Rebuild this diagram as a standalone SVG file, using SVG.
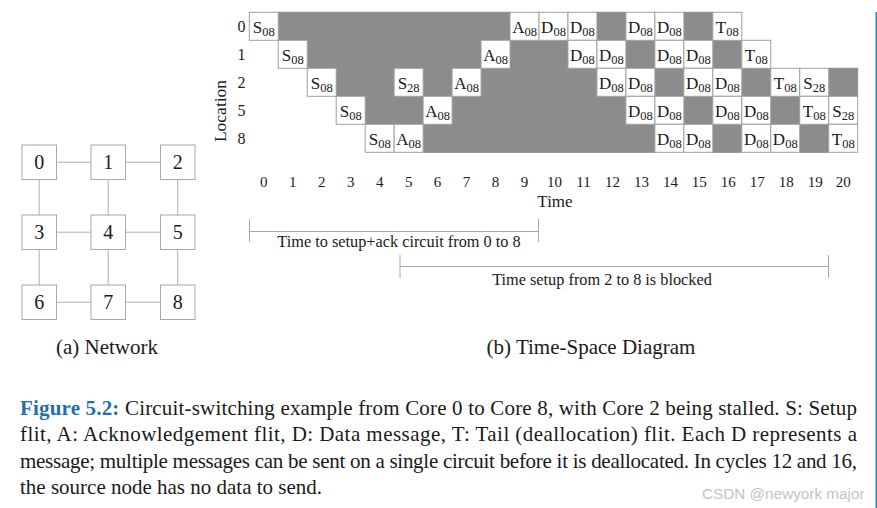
<svg xmlns="http://www.w3.org/2000/svg" width="877" height="508" viewBox="0 0 877 508">
<style>
text{font-family:"Liberation Serif","DejaVu Serif",serif;fill:#1a1a1a}
.g{fill:#8c8c8c;stroke:#8c8c8c;stroke-width:1}
.c{fill:#fff;stroke:#a0a0a0;stroke-width:1}
.ct{font-size:17px;text-anchor:middle}
.sub{font-size:12.5px}
.lbl{font-size:15px;text-anchor:middle}
.loc{font-size:16px;text-anchor:middle}
.brt{font-size:16.3px;text-anchor:middle}
.nb{fill:#fff;stroke:#a8a8a8;stroke-width:1}
.nt{font-size:20px;text-anchor:middle}
.edge{stroke:#b0b0b0;stroke-width:1;fill:none}
.br{stroke:#a8a8a8;stroke-width:1;fill:none}
.cap{font-size:21px}
.cap2{font-size:21px;text-anchor:middle}
</style>
<!-- Network -->
<g id="connectors">
<line class="edge" x1="56.5" y1="162.2" x2="91" y2="162.2"/>
<line class="edge" x1="125.5" y1="162.2" x2="160.5" y2="162.2"/>
<line class="edge" x1="56.5" y1="232.2" x2="91" y2="232.2"/>
<line class="edge" x1="125.5" y1="232.2" x2="160.5" y2="232.2"/>
<line class="edge" x1="56.5" y1="302.2" x2="91" y2="302.2"/>
<line class="edge" x1="125.5" y1="302.2" x2="160.5" y2="302.2"/>
<line class="edge" x1="39.2" y1="179.5" x2="39.2" y2="215"/>
<line class="edge" x1="108.2" y1="179.5" x2="108.2" y2="215"/>
<line class="edge" x1="177.7" y1="179.5" x2="177.7" y2="215"/>
<line class="edge" x1="39.2" y1="249.5" x2="39.2" y2="285"/>
<line class="edge" x1="108.2" y1="249.5" x2="108.2" y2="285"/>
<line class="edge" x1="177.7" y1="249.5" x2="177.7" y2="285"/>
</g>
<g id="n0"><rect class="nb" x="22" y="145" width="34.5" height="34.5"/><text class="nt" x="39.2" y="169">0</text></g>
<g id="n1"><rect class="nb" x="91" y="145" width="34.5" height="34.5"/><text class="nt" x="108.2" y="169">1</text></g>
<g id="n2"><rect class="nb" x="160.5" y="145" width="34.5" height="34.5"/><text class="nt" x="177.7" y="169">2</text></g>
<g id="n3"><rect class="nb" x="22" y="215" width="34.5" height="34.5"/><text class="nt" x="39.2" y="239">3</text></g>
<g id="n4"><rect class="nb" x="91" y="215" width="34.5" height="34.5"/><text class="nt" x="108.2" y="239">4</text></g>
<g id="n5"><rect class="nb" x="160.5" y="215" width="34.5" height="34.5"/><text class="nt" x="177.7" y="239">5</text></g>
<g id="n6"><rect class="nb" x="22" y="285" width="34.5" height="34.5"/><text class="nt" x="39.2" y="309">6</text></g>
<g id="n7"><rect class="nb" x="91" y="285" width="34.5" height="34.5"/><text class="nt" x="108.2" y="309">7</text></g>
<g id="n8"><rect class="nb" x="160.5" y="285" width="34.5" height="34.5"/><text class="nt" x="177.7" y="309">8</text></g>
<text class="cap2" x="107" y="354">(a) Network</text>

<!-- Time-space diagram -->
<g id="grid" transform="translate(249.3,12.3)">
<rect class="g" x="28.97" y="0" width="231.76" height="28"/>
<rect class="g" x="347.64" y="0" width="28.97" height="28"/>
<rect class="g" x="434.55" y="0" width="28.97" height="28"/>
<rect class="g" x="57.94" y="28" width="173.82" height="28"/>
<rect class="g" x="260.73" y="28" width="57.94" height="28"/>
<rect class="g" x="376.61" y="28" width="28.97" height="28"/>
<rect class="g" x="463.52" y="28" width="28.97" height="28"/>
<rect class="g" x="86.91" y="56" width="57.94" height="28"/>
<rect class="g" x="173.82" y="56" width="28.97" height="28"/>
<rect class="g" x="231.76" y="56" width="115.88" height="28"/>
<rect class="g" x="405.58" y="56" width="28.97" height="28"/>
<rect class="g" x="492.49" y="56" width="28.97" height="28"/>
<rect class="g" x="579.4" y="56" width="28.97" height="28"/>
<rect class="g" x="115.88" y="84" width="57.94" height="28"/>
<rect class="g" x="202.79" y="84" width="173.82" height="28"/>
<rect class="g" x="434.55" y="84" width="28.97" height="28"/>
<rect class="g" x="521.46" y="84" width="28.97" height="28"/>
<rect class="g" x="173.82" y="112" width="231.76" height="28"/>
<rect class="g" x="463.52" y="112" width="28.97" height="28"/>
<rect class="g" x="550.43" y="112" width="28.97" height="28"/>

<!-- row 0 -->
<rect class="c" x="0" y="0" width="28.97" height="28"/><text class="ct" x="14.49" y="20.5">S<tspan class="sub" dy="3">08</tspan></text>
<rect class="c" x="260.73" y="0" width="28.97" height="28"/><text class="ct" x="275.22" y="20.5">A<tspan class="sub" dy="3">08</tspan></text>
<rect class="c" x="289.7" y="0" width="28.97" height="28"/><text class="ct" x="304.19" y="20.5">D<tspan class="sub" dy="3">08</tspan></text>
<rect class="c" x="318.67" y="0" width="28.97" height="28"/><text class="ct" x="333.16" y="20.5">D<tspan class="sub" dy="3">08</tspan></text>
<rect class="c" x="376.61" y="0" width="28.97" height="28"/><text class="ct" x="391.1" y="20.5">D<tspan class="sub" dy="3">08</tspan></text>
<rect class="c" x="405.58" y="0" width="28.97" height="28"/><text class="ct" x="420.07" y="20.5">D<tspan class="sub" dy="3">08</tspan></text>
<rect class="c" x="463.52" y="0" width="28.97" height="28"/><text class="ct" x="478.01" y="20.5">T<tspan class="sub" dy="3">08</tspan></text>
<!-- row 1 -->
<rect class="c" x="28.97" y="28" width="28.97" height="28"/><text class="ct" x="43.46" y="48.5">S<tspan class="sub" dy="3">08</tspan></text>
<rect class="c" x="231.76" y="28" width="28.97" height="28"/><text class="ct" x="246.25" y="48.5">A<tspan class="sub" dy="3">08</tspan></text>
<rect class="c" x="318.67" y="28" width="28.97" height="28"/><text class="ct" x="333.16" y="48.5">D<tspan class="sub" dy="3">08</tspan></text>
<rect class="c" x="347.64" y="28" width="28.97" height="28"/><text class="ct" x="362.13" y="48.5">D<tspan class="sub" dy="3">08</tspan></text>
<rect class="c" x="405.58" y="28" width="28.97" height="28"/><text class="ct" x="420.07" y="48.5">D<tspan class="sub" dy="3">08</tspan></text>
<rect class="c" x="434.55" y="28" width="28.97" height="28"/><text class="ct" x="449.04" y="48.5">D<tspan class="sub" dy="3">08</tspan></text>
<rect class="c" x="492.49" y="28" width="28.97" height="28"/><text class="ct" x="506.98" y="48.5">T<tspan class="sub" dy="3">08</tspan></text>
<!-- row 2 -->
<rect class="c" x="57.94" y="56" width="28.97" height="28"/><text class="ct" x="72.43" y="76.5">S<tspan class="sub" dy="3">08</tspan></text>
<rect class="c" x="144.85" y="56" width="28.97" height="28"/><text class="ct" x="159.34" y="76.5">S<tspan class="sub" dy="3">28</tspan></text>
<rect class="c" x="202.79" y="56" width="28.97" height="28"/><text class="ct" x="217.28" y="76.5">A<tspan class="sub" dy="3">08</tspan></text>
<rect class="c" x="347.64" y="56" width="28.97" height="28"/><text class="ct" x="362.13" y="76.5">D<tspan class="sub" dy="3">08</tspan></text>
<rect class="c" x="376.61" y="56" width="28.97" height="28"/><text class="ct" x="391.1" y="76.5">D<tspan class="sub" dy="3">08</tspan></text>
<rect class="c" x="434.55" y="56" width="28.97" height="28"/><text class="ct" x="449.04" y="76.5">D<tspan class="sub" dy="3">08</tspan></text>
<rect class="c" x="463.52" y="56" width="28.97" height="28"/><text class="ct" x="478.01" y="76.5">D<tspan class="sub" dy="3">08</tspan></text>
<rect class="c" x="521.46" y="56" width="28.97" height="28"/><text class="ct" x="535.95" y="76.5">T<tspan class="sub" dy="3">08</tspan></text>
<rect class="c" x="550.43" y="56" width="28.97" height="28"/><text class="ct" x="564.92" y="76.5">S<tspan class="sub" dy="3">28</tspan></text>
<!-- row 3 -->
<rect class="c" x="86.91" y="84" width="28.97" height="28"/><text class="ct" x="101.4" y="104.5">S<tspan class="sub" dy="3">08</tspan></text>
<rect class="c" x="173.82" y="84" width="28.97" height="28"/><text class="ct" x="188.31" y="104.5">A<tspan class="sub" dy="3">08</tspan></text>
<rect class="c" x="376.61" y="84" width="28.97" height="28"/><text class="ct" x="391.1" y="104.5">D<tspan class="sub" dy="3">08</tspan></text>
<rect class="c" x="405.58" y="84" width="28.97" height="28"/><text class="ct" x="420.07" y="104.5">D<tspan class="sub" dy="3">08</tspan></text>
<rect class="c" x="463.52" y="84" width="28.97" height="28"/><text class="ct" x="478.01" y="104.5">D<tspan class="sub" dy="3">08</tspan></text>
<rect class="c" x="492.49" y="84" width="28.97" height="28"/><text class="ct" x="506.98" y="104.5">D<tspan class="sub" dy="3">08</tspan></text>
<rect class="c" x="550.43" y="84" width="28.97" height="28"/><text class="ct" x="564.92" y="104.5">T<tspan class="sub" dy="3">08</tspan></text>
<rect class="c" x="579.4" y="84" width="28.97" height="28"/><text class="ct" x="593.89" y="104.5">S<tspan class="sub" dy="3">28</tspan></text>
<!-- row 4 -->
<rect class="c" x="115.88" y="112" width="28.97" height="28"/><text class="ct" x="130.37" y="132.5">S<tspan class="sub" dy="3">08</tspan></text>
<rect class="c" x="144.85" y="112" width="28.97" height="28"/><text class="ct" x="159.34" y="132.5">A<tspan class="sub" dy="3">08</tspan></text>
<rect class="c" x="405.58" y="112" width="28.97" height="28"/><text class="ct" x="420.07" y="132.5">D<tspan class="sub" dy="3">08</tspan></text>
<rect class="c" x="434.55" y="112" width="28.97" height="28"/><text class="ct" x="449.04" y="132.5">D<tspan class="sub" dy="3">08</tspan></text>
<rect class="c" x="492.49" y="112" width="28.97" height="28"/><text class="ct" x="506.98" y="132.5">D<tspan class="sub" dy="3">08</tspan></text>
<rect class="c" x="521.46" y="112" width="28.97" height="28"/><text class="ct" x="535.95" y="132.5">D<tspan class="sub" dy="3">08</tspan></text>
<rect class="c" x="579.4" y="112" width="28.97" height="28"/><text class="ct" x="593.89" y="132.5">T<tspan class="sub" dy="3">08</tspan></text>
</g>

<!-- location labels -->
<g id="loc">
<text class="loc" x="241.5" y="32">0</text>
<text class="loc" x="241.5" y="60">1</text>
<text class="loc" x="241.5" y="88">2</text>
<text class="loc" x="241.5" y="116">5</text>
<text class="loc" x="241.5" y="144">8</text>
<text x="0" y="0" transform="translate(226,111) rotate(-90)" style="font-size:17.5px;text-anchor:middle">Location</text>
</g>
<!-- time labels -->
<g id="time">
<text class="lbl" x="263.8" y="187">0</text>
<text class="lbl" x="292.77" y="187">1</text>
<text class="lbl" x="321.74" y="187">2</text>
<text class="lbl" x="350.71" y="187">3</text>
<text class="lbl" x="379.68" y="187">4</text>
<text class="lbl" x="408.65" y="187">5</text>
<text class="lbl" x="437.62" y="187">6</text>
<text class="lbl" x="466.59" y="187">7</text>
<text class="lbl" x="495.56" y="187">8</text>
<text class="lbl" x="524.53" y="187">9</text>
<text class="lbl" x="554.5" y="187">10</text>
<text class="lbl" x="583.47" y="187">11</text>
<text class="lbl" x="612.44" y="187">12</text>
<text class="lbl" x="641.41" y="187">13</text>
<text class="lbl" x="670.38" y="187">14</text>
<text class="lbl" x="699.35" y="187">15</text>
<text class="lbl" x="728.32" y="187">16</text>
<text class="lbl" x="757.29" y="187">17</text>
<text class="lbl" x="786.26" y="187">18</text>
<text class="lbl" x="815.23" y="187">19</text>
<text class="lbl" x="843.2" y="187">20</text>
<text class="lbl" x="555" y="207" style="font-size:17px">Time</text>
</g>
<!-- brackets -->
<g id="brackets">
<path class="br" d="M249.5,219 V242 M249.5,231.5 H538.5 M538.5,219 V242"/>
<text class="brt" x="399" y="247">Time to setup+ack circuit from 0 to 8</text>
<path class="br" d="M400,255 V278 M400,266.5 H828.5 M828.5,255 V278"/>
<text class="brt" x="602" y="285">Time setup from 2 to 8 is blocked</text>
</g>
<text class="cap2" x="591" y="354">(b) Time-Space Diagram</text>

<!-- caption -->
<text class="cap" x="20" y="414.5" textLength="837" lengthAdjust="spacing"><tspan style="font-weight:bold;fill:#1f6fae">Figure 5.2:</tspan>  Circuit-switching example from Core 0 to Core 8, with Core 2 being stalled. S: Setup</text>
<text class="cap" x="20" y="441" textLength="837" lengthAdjust="spacing">flit, A: Acknowledgement flit, D: Data message, T: Tail (deallocation) flit. Each D represents a</text>
<text class="cap" x="20" y="467.5" textLength="837" lengthAdjust="spacing">message; multiple messages can be sent on a single circuit before it is deallocated. In cycles 12 and 16,</text>
<text class="cap" x="20" y="494">the source node has no data to send.</text>
<text x="702" y="499" style="font-family:'Liberation Sans',Arial,sans-serif;font-size:15.3px;fill:#c4c4c4">CSDN @newyork major</text>
<line x1="876.3" y1="12" x2="876.3" y2="508" stroke="#2e7ec1" stroke-width="1.5"/>
</svg>
